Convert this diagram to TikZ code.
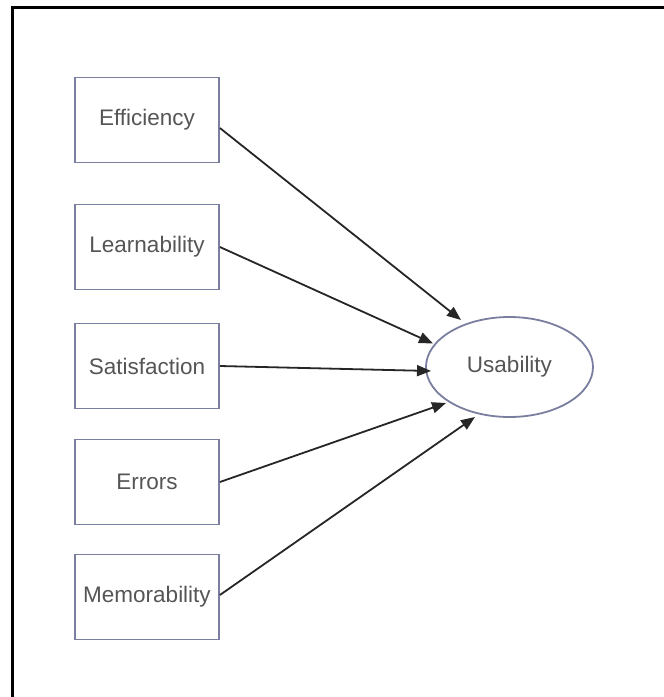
\documentclass[tikz,border=0pt]{standalone}
\usepackage{fontspec}
\setmainfont{Liberation Sans}
\usetikzlibrary{arrows.meta,shapes.geometric}
\definecolor{boxline}{HTML}{7A7FA0}
\definecolor{txt}{HTML}{555555}
\tikzset{
  factor/.style={draw=boxline, line width=1.8pt, minimum width=144pt, minimum height=85pt, inner sep=0pt, text=txt, font=\fontsize{22.5}{26}\selectfont},
  target/.style={ellipse, draw=boxline, line width=1.8pt, minimum width=167pt, minimum height=100pt, inner sep=0pt, text=txt, font=\fontsize{22.5}{26}\selectfont},
  link/.style={draw=black!85, line width=1.8pt, -{Triangle[length=14pt,width=11pt]}},
  frame/.style={draw=black, line width=3pt}
}
\begin{document}
\begin{tikzpicture}[x=1pt,y=-1pt]
\useasboundingbox (0,0) rectangle (664,697);
\draw[frame] (12,697) -- (12,7) -- (664,7);
\node[factor] (eff) at (147,120) {Efficiency};
\node[factor] (lea) at (147,247) {Learnability};
\node[factor] (sat) at (147,366) {Satisfaction};
\node[factor] (err) at (147,482) {Errors};
\node[factor] (mem) at (147,597) {Memorability};
\node[target] (us) at (509.5,367) {Usability};
\coordinate (t1) at (461,320);
\coordinate (t2) at (433,343.5);
\coordinate (t3) at (431,371);
\coordinate (t4) at (446,403);
\coordinate (t5) at (475,417);
\draw[link] ([yshift=-8pt]eff.east) -- (t1);
\draw[link] (lea.east) -- (t2);
\draw[link] (sat.east) -- (t3);
\draw[link] (err.east) -- (t4);
\draw[link] ([yshift=2pt]mem.east) -- (t5);
\end{tikzpicture}
\end{document}
